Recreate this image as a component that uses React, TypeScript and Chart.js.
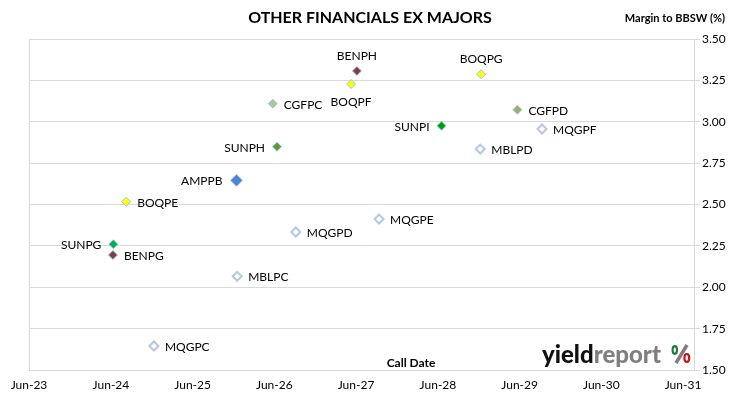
import React, { useEffect, useRef } from "react";
import { Chart, registerables } from "chart.js";

Chart.register(...registerables);

const names = ["BENPH", "BOQPF", "BOQPG", "CGFPC", "CGFPD", "SUNPI", "MQGPF", "MBLPD", "SUNPH", "AMPPB", "BOQPE", "MQGPE", "MQGPD", "SUNPG", "BENPG", "MBLPC", "MQGPC"];
const callDates = ["2027-06-05", "2027-05-10", "2028-12-11", "2026-05-25", "2029-05-22", "2028-06-17", "2029-09-09", "2028-12-07", "2026-06-13", "2025-12-14", "2024-08-08", "2027-09-12", "2026-09-05", "2024-06-12", "2024-06-10", "2025-12-17", "2024-12-10"];
const margins = [3.307, 3.228, 3.287, 3.109, 3.073, 2.976, 2.956, 2.835, 2.849, 2.646, 2.517, 2.412, 2.334, 2.26, 2.195, 2.066, 1.645];
const tickLabels = ["Jun-23", "Jun-24", "Jun-25", "Jun-26", "Jun-27", "Jun-28", "Jun-29", "Jun-30", "Jun-31"];
const tickDates = ["2023-06-01", "2024-06-01", "2025-06-01", "2026-06-01", "2027-06-01", "2028-06-01", "2029-06-01", "2030-06-01", "2031-06-01"];
const yTicks = [1.5, 1.75, 2.0, 2.25, 2.5, 2.75, 3.0, 3.25, 3.5];

// styling per point
const fills = ["#843c3c", "#ffff00", "#ffff00", "#b3c497", "#9bb069", "#00a000", "#ffffff", "#ffffff", "#5b9a35", "#4a86d4", "#ffff00", "#ffffff", "#ffffff", "#00b050", "#843c3c", "#ffffff", "#ffffff"];
const labelSide = ["top", "bottom", "top", "right", "right", "left", "right", "right", "left", "left", "right", "right", "right", "left", "right", "right", "right"];

const toX = (s: string) => Date.parse(s + "T00:00:00Z");
const X_MIN = toX("2023-06-01");
const X_MAX = toX("2031-07-20");

const FONT = "Lato, 'Open Sans', sans-serif";

export default function App() {
  const ref = useRef<HTMLCanvasElement | null>(null);
  useEffect(() => {
    document.body.style.margin = "0";
    const canvas = ref.current!;
    const hollow = (c: string) => c === "#ffffff";
    const pointData = names.map((n, i) => ({ x: toX(callDates[i]), y: margins[i] }));

    const labelPlugin = {
      id: "labels",
      afterDatasetsDraw(chart: any) {
        const ctx = chart.ctx;
        const meta = chart.getDatasetMeta(0);
        ctx.save();
        ctx.font = `12px ${FONT}`;
        ctx.fillStyle = "#000";
        meta.data.forEach((el: any, i: number) => {
          const side = labelSide[i];
          const big = names[i] === "AMPPB";
          if (side === "right") {
            ctx.textAlign = "left"; ctx.textBaseline = "middle";
            ctx.fillText(names[i], el.x + 11, el.y + 1);
          } else if (side === "left") {
            ctx.textAlign = "right"; ctx.textBaseline = "middle";
            ctx.fillText(names[i], el.x - (big ? 14 : 12), el.y + 1);
          } else if (side === "top") {
            ctx.textAlign = "center"; ctx.textBaseline = "middle";
            ctx.fillText(names[i], el.x, el.y - 15);
          } else {
            ctx.textAlign = "center"; ctx.textBaseline = "middle";
            ctx.fillText(names[i], el.x, el.y + 18);
          }
        });
        ctx.restore();
      },
      afterDraw(chart: any) {
        const ctx = chart.ctx;
        ctx.save();
        ctx.fillStyle = "#000";
        ctx.textBaseline = "middle";
        ctx.textAlign = "center";
        ctx.font = `bold 16px ${FONT}`;
        ctx.fillText("OTHER FINANCIALS EX MAJORS", 370, 18);
        ctx.textAlign = "right";
        ctx.font = `bold 11px ${FONT}`;
        ctx.fillText("Margin to BBSW (%)", 725, 18);
        ctx.textAlign = "center";
        ctx.font = `bold 12px ${FONT}`;
        ctx.fillText("Call Date", 411, 363);
        // logo
        ctx.textAlign = "left";
        ctx.textBaseline = "alphabetic";
        ctx.font = `900 24px ${FONT}`;
        ctx.fillStyle = "#111";
        ctx.fillText("yield", 542, 363);
        const w = ctx.measureText("yield").width;
        ctx.fillStyle = "#7f7f7f";
        ctx.fillText("report", 542 + w, 363);
        // percent mark
        ctx.lineCap = "butt";
        ctx.strokeStyle = "#7f7f7f";
        ctx.lineWidth = 3.5;
        ctx.beginPath();
        ctx.moveTo(676, 363);
        ctx.lineTo(687, 345);
        ctx.stroke();
        ctx.lineWidth = 2.2;
        ctx.strokeStyle = "#1e7a3c";
        ctx.beginPath();
        ctx.ellipse(674.8, 350, 2.2, 3.8, 0, 0, Math.PI * 2);
        ctx.stroke();
        ctx.strokeStyle = "#c8141e";
        ctx.beginPath();
        ctx.ellipse(686.8, 358, 2.4, 4, 0, 0, Math.PI * 2);
        ctx.stroke();
        ctx.restore();
      },
    };

    const chart = new Chart(canvas, {
      type: "scatter",
      data: {
        datasets: [
          {
            data: pointData,
            pointStyle: "rectRot",
            pointRadius: names.map((n) => (n === "AMPPB" ? 6 : 4.5)),
            pointBackgroundColor: fills,
            pointBorderColor: fills.map((c) => (hollow(c) ? "#b4c7e7" : "#9dc3e6")),
            pointBorderWidth: fills.map((c) => (hollow(c) ? 2 : 1)),
          } as any,
        ],
      },
      options: {
        animation: false,
        responsive: true,
        maintainAspectRatio: false,
        layout: { padding: { left: 29, top: 39, right: 0, bottom: 0 } },
        plugins: { legend: { display: false }, tooltip: { enabled: false }, title: { display: false } },
        scales: {
          x: {
            type: "linear",
            min: X_MIN,
            max: X_MAX,
            afterBuildTicks: (s: any) => {
              s.ticks = tickDates.map((d) => ({ value: toX(d) }));
            },
            afterFit: (s: any) => { s.height = 29; },
            ticks: {
              autoSkip: false,
              maxRotation: 0,
              padding: 8,
              color: "#000",
              font: { family: FONT, size: 12 },
              callback: (_v: any, i: number) => tickLabels[i],
            },
            grid: {
              drawTicks: false,
              color: (c: any) => (c.index === 0 ? "#d9d9d9" : "rgba(0,0,0,0)"),
            },
            border: { display: true, color: "#d9d9d9" },
          },
          y: {
            position: "right",
            min: 1.5,
            max: 3.5,
            afterBuildTicks: (s: any) => {
              s.ticks = yTicks.map((v) => ({ value: v }));
            },
            afterFit: (s: any) => { s.width = 36; },
            ticks: {
              padding: 2,
              color: "#000",
              font: { family: FONT, size: 12 },
              callback: (v: any) => Number(v).toFixed(2),
            },
            grid: { color: "#d9d9d9", tickLength: 6 },
            border: { display: true, color: "#d9d9d9" },
          },
        },
      },
      plugins: [labelPlugin],
    });
    return () => chart.destroy();
  }, []);
  return (
    <div style={{ width: 730, height: 399, position: "relative", background: "#fff" }}>
      <canvas ref={ref} />
    </div>
  );
}
